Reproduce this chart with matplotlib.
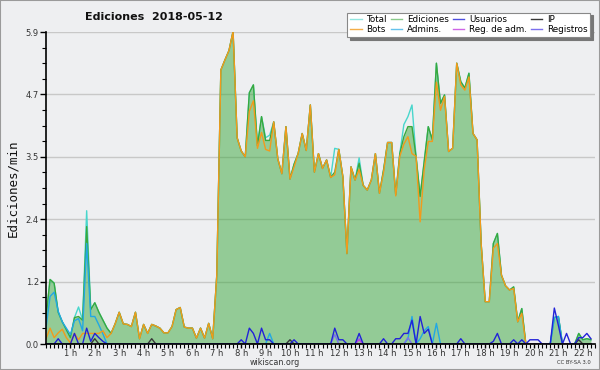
import numpy as np
import matplotlib
matplotlib.use('Agg')
import matplotlib.pyplot as plt
from matplotlib.ticker import MultipleLocator, AutoMinorLocator
from matplotlib.patches import Rectangle
from matplotlib.lines import Line2D

# ---- data (edits per minute, 10-minute steps from 00:00) ----
step_minutes = 10

ediciones = [
    0.50, 1.22, 1.15, 0.60, 0.42, 0.27, 0.12, 0.50, 0.52, 0.45, 2.22, 0.65, 0.78, 0.60, 0.45,
    0.30, 0.20, 0.38, 0.60, 0.38, 0.37, 0.33, 0.60, 0.10, 0.37, 0.20, 0.37, 0.34, 0.30, 0.21,
    0.21, 0.33, 0.65, 0.69, 0.32, 0.30, 0.30, 0.11, 0.30, 0.11, 0.39, 0.10, 1.30, 5.18, 5.37,
    5.55, 5.91, 3.90, 3.65, 3.54, 4.75, 4.90, 3.75, 4.30, 3.85, 3.85, 4.20, 3.50, 3.22, 4.11,
    3.12, 3.40, 3.60, 3.98, 3.66, 4.52, 3.25, 3.60, 3.32, 3.48, 3.15, 3.25, 3.68, 3.16, 1.71,
    3.35, 3.10, 3.42, 3.00, 2.91, 3.10, 3.60, 2.85, 3.29, 3.81, 3.81, 2.82, 3.60, 3.92, 4.11,
    4.11, 3.54, 2.79, 3.45, 4.11, 3.86, 5.31, 4.55, 4.71, 3.64, 3.70, 5.31, 4.96, 4.84, 5.12,
    3.98, 3.86, 1.90, 0.80, 0.80, 1.90, 2.09, 1.30, 1.10, 1.02, 1.08, 0.42, 0.67, 0.00, 0.00,
    0.00, 0.00, 0.00, 0.00, 0.00, 0.50, 0.52, 0.00, 0.00, 0.00, 0.00, 0.20, 0.08, 0.10, 0.08,
]

total = [
    0.50, 1.22, 1.15, 0.60, 0.42, 0.27, 0.12, 0.50, 0.70, 0.45, 2.52, 0.65, 0.78, 0.60, 0.45,
    0.30, 0.20, 0.38, 0.60, 0.38, 0.37, 0.33, 0.60, 0.10, 0.37, 0.20, 0.37, 0.34, 0.30, 0.21,
    0.21, 0.33, 0.65, 0.69, 0.32, 0.30, 0.30, 0.11, 0.30, 0.11, 0.39, 0.10, 1.30, 5.18, 5.37,
    5.55, 5.91, 3.90, 3.65, 3.54, 4.75, 4.90, 3.75, 4.30, 3.90, 3.95, 4.20, 3.50, 3.22, 4.11,
    3.12, 3.40, 3.60, 3.98, 3.66, 4.52, 3.25, 3.60, 3.32, 3.48, 3.15, 3.70, 3.68, 3.16, 1.71,
    3.35, 3.10, 3.52, 3.00, 2.91, 3.10, 3.60, 2.85, 3.29, 3.81, 3.81, 2.82, 3.60, 4.15, 4.30,
    4.52, 3.54, 2.79, 3.45, 4.11, 3.86, 5.31, 4.55, 4.71, 3.64, 3.70, 5.31, 4.96, 4.84, 5.12,
    3.98, 3.86, 1.90, 0.80, 0.80, 1.90, 2.09, 1.30, 1.10, 1.02, 1.08, 0.42, 0.67, 0.00, 0.00,
    0.00, 0.00, 0.00, 0.00, 0.00, 0.50, 0.52, 0.00, 0.00, 0.00, 0.00, 0.20, 0.08, 0.10, 0.08,
]

bots = [
    0.10, 0.30, 0.12, 0.21, 0.28, 0.12, 0.02, 0.20, 0.08, 0.20, 0.20, 0.20, 0.20, 0.20, 0.25,
    0.12, 0.20, 0.38, 0.60, 0.38, 0.37, 0.33, 0.60, 0.10, 0.37, 0.20, 0.37, 0.34, 0.30, 0.21,
    0.21, 0.33, 0.65, 0.69, 0.32, 0.30, 0.30, 0.11, 0.30, 0.11, 0.39, 0.10, 1.30, 5.18, 5.37,
    5.55, 5.91, 3.90, 3.65, 3.54, 4.40, 4.60, 3.70, 4.00, 3.68, 3.65, 4.20, 3.50, 3.22, 4.11,
    3.12, 3.35, 3.60, 3.98, 3.66, 4.52, 3.25, 3.60, 3.32, 3.48, 3.15, 3.20, 3.68, 3.16, 1.71,
    3.35, 3.10, 3.30, 3.00, 2.91, 3.10, 3.60, 2.85, 3.25, 3.81, 3.81, 2.80, 3.55, 3.78, 3.92,
    3.60, 3.55, 2.31, 3.30, 3.83, 3.83, 4.95, 4.42, 4.68, 3.64, 3.70, 5.31, 4.90, 4.80, 5.05,
    3.98, 3.86, 1.90, 0.80, 0.80, 1.81, 1.90, 1.30, 1.10, 1.02, 1.05, 0.42, 0.58, 0.00, 0.00,
    0.00, 0.00, 0.00, 0.00, 0.00, 0.00, 0.00, 0.00, 0.00, 0.00, 0.00, 0.00, 0.00, 0.00, 0.00,
]

admins = [
    0.30, 0.90, 0.98, 0.62, 0.42, 0.30, 0.18, 0.44, 0.48, 0.25, 1.90, 0.52, 0.52, 0.36, 0.19,
    0, 0, 0, 0, 0, 0, 0, 0, 0, 0, 0, 0, 0, 0, 0,
    0, 0, 0, 0, 0, 0, 0, 0, 0, 0, 0, 0, 0, 0, 0,
    0, 0, 0, 0, 0, 0, 0, 0, 0, 0, 0.20, 0, 0, 0, 0,
    0, 0, 0, 0, 0, 0, 0, 0, 0, 0, 0, 0, 0, 0, 0,
    0, 0, 0, 0, 0, 0, 0, 0, 0, 0, 0, 0, 0, 0, 0.10,
    0.52, 0, 0.10, 0.25, 0.33, 0, 0.39, 0, 0, 0, 0, 0, 0, 0, 0,
    0, 0, 0, 0, 0, 0, 0, 0, 0, 0, 0, 0, 0, 0, 0,
    0, 0, 0, 0, 0, 0.50, 0.52, 0, 0, 0, 0, 0, 0, 0, 0,
]

usuarios = [
    0, 0, 0, 0.10, 0, 0, 0, 0.20, 0, 0, 0.30, 0.05, 0.20, 0.12, 0.05,
    0, 0, 0, 0, 0, 0, 0, 0, 0, 0, 0, 0, 0, 0, 0,
    0, 0, 0, 0, 0, 0, 0, 0, 0, 0, 0, 0, 0, 0, 0,
    0, 0, 0, 0.08, 0, 0.30, 0.20, 0, 0.30, 0.08, 0.08, 0, 0, 0, 0,
    0, 0.08, 0, 0, 0, 0, 0, 0, 0, 0, 0, 0.30, 0.08, 0.08, 0,
    0, 0, 0.20, 0, 0, 0, 0, 0, 0.10, 0, 0, 0.10, 0.10, 0.20, 0.20,
    0.45, 0, 0.52, 0.20, 0.28, 0, 0, 0, 0, 0, 0, 0, 0.10, 0, 0,
    0, 0, 0, 0, 0, 0.05, 0.20, 0, 0, 0, 0.08, 0, 0.08, 0, 0.08,
    0.08, 0.08, 0, 0, 0, 0.68, 0.35, 0, 0.20, 0, 0, 0.12, 0.12, 0.20, 0.10,
]

ip = [
    0, 0, 0, 0, 0, 0, 0, 0, 0, 0, 0, 0, 0.10, 0, 0,
    0, 0, 0, 0, 0, 0, 0, 0, 0, 0, 0, 0.10, 0, 0, 0,
    0, 0, 0, 0, 0, 0, 0, 0, 0, 0, 0, 0, 0, 0, 0,
    0, 0, 0, 0, 0, 0, 0, 0, 0, 0, 0, 0, 0, 0, 0,
    0.08, 0, 0, 0, 0, 0, 0, 0, 0, 0, 0, 0, 0, 0, 0,
    0, 0, 0, 0, 0, 0, 0, 0, 0, 0, 0, 0, 0, 0, 0,
    0, 0, 0, 0, 0, 0, 0, 0, 0, 0, 0, 0, 0, 0, 0,
    0, 0, 0, 0, 0, 0, 0, 0, 0, 0, 0, 0, 0, 0, 0,
    0, 0, 0, 0, 0, 0, 0, 0, 0, 0, 0, 0.08, 0, 0, 0,
]

registros = [
    0, 0, 0, 0, 0, 0, 0, 0, 0, 0, 0, 0, 0, 0, 0,
    0, 0, 0, 0, 0, 0, 0, 0, 0, 0, 0, 0, 0, 0, 0,
    0, 0, 0, 0, 0, 0, 0, 0, 0, 0, 0, 0, 0, 0, 0,
    0, 0, 0, 0, 0, 0, 0, 0, 0, 0, 0, 0, 0, 0, 0,
    0, 0, 0, 0, 0, 0, 0, 0, 0, 0, 0, 0.18, 0, 0, 0,
    0, 0, 0.10, 0, 0, 0, 0, 0, 0, 0, 0, 0, 0, 0, 0.12,
    0, 0, 0, 0, 0, 0, 0, 0, 0, 0, 0, 0, 0, 0, 0,
    0, 0, 0, 0, 0, 0, 0, 0, 0, 0, 0, 0, 0, 0, 0,
    0, 0, 0, 0, 0, 0, 0, 0, 0, 0, 0, 0, 0, 0, 0,
]

reg_adm = [
    0, 0, 0, 0, 0, 0, 0, 0, 0, 0, 0, 0, 0, 0, 0,
    0, 0, 0, 0, 0, 0, 0, 0, 0, 0, 0, 0, 0, 0, 0,
    0, 0, 0, 0, 0, 0, 0, 0, 0, 0, 0, 0, 0, 0, 0,
    0, 0, 0, 0, 0, 0, 0, 0, 0, 0, 0, 0, 0, 0, 0,
    0, 0, 0, 0, 0, 0, 0, 0, 0, 0, 0, 0, 0, 0, 0,
    0, 0, 0.08, 0, 0, 0, 0, 0, 0, 0, 0, 0, 0, 0, 0,
    0, 0, 0, 0, 0, 0, 0, 0, 0, 0, 0, 0, 0, 0, 0,
    0, 0, 0, 0, 0, 0, 0, 0, 0, 0, 0, 0, 0, 0, 0,
    0, 0, 0, 0, 0, 0, 0, 0, 0, 0, 0, 0, 0, 0, 0,
]

hour_ticks = list(range(1, 23))
hour_labels = [f'{h} h' for h in hour_ticks]
y_max = 5.9
title = 'Ediciones  2018-05-12'
y_label = 'Ediciones/min'

# ---- style ----
BG = '#eeeff1'
C_TOTAL = '#48d6cc'
C_EDIC = '#3aa83c'
C_USU = '#2222d8'
C_IP = '#383838'
C_BOTS = '#f29a1c'
C_ADM = '#22a8e4'
C_REGADM = '#c23ee0'
C_REG = '#7b70ee'

hours = np.arange(len(ediciones)) * step_minutes / 60.0

fig = plt.figure(figsize=(6, 3.7), dpi=100, facecolor=BG)
ax = fig.add_axes([46 / 600, 26 / 370, 549 / 600, 312 / 370], facecolor=BG)

ax.set_xlim(0, 22.5)
ax.set_ylim(0, y_max)

yt = np.linspace(0, y_max, 6)
ax.set_yticks(yt)
ax.set_yticklabels([f'{v:.1f}' for v in yt])
ax.yaxis.set_minor_locator(AutoMinorLocator(4))
ax.grid(axis='y', which='major', color='#c8c8c8', lw=1.0)
ax.set_axisbelow(True)

ax.set_xticks(hour_ticks)
ax.set_xticklabels(hour_labels)
ax.xaxis.set_minor_locator(MultipleLocator(1 / 6))

for s in ['top', 'right']:
    ax.spines[s].set_visible(False)
for s in ['left', 'bottom']:
    ax.spines[s].set_color('black')
    ax.spines[s].set_linewidth(1.2)
    ax.spines[s].set_zorder(5)

ax.tick_params(axis='y', which='major', length=4, width=1, labelsize=6,
               labelcolor='#333333', pad=1.2)
ax.tick_params(axis='x', which='major', length=3, width=1, labelsize=6,
               labelcolor='#333333', pad=0.3)
ax.tick_params(axis='both', which='minor', length=2.6, width=0.8)

lw = 1.0
ax.fill_between(hours, 0, ediciones, color=C_EDIC, alpha=0.5, lw=0, zorder=1)
ax.plot(hours, total, color=C_TOTAL, lw=lw, zorder=2)
ax.plot(hours, ediciones, color=C_EDIC, lw=lw, zorder=2.1)
ax.plot(hours, admins, color=C_ADM, lw=lw, zorder=2.2)
ax.plot(hours, bots, color=C_BOTS, lw=lw, zorder=2.3)
ax.plot(hours, registros, color=C_REG, lw=lw, zorder=2.4)
ax.plot(hours, reg_adm, color=C_REGADM, lw=lw, zorder=2.45)
ax.plot(hours, ip, color=C_IP, lw=lw, zorder=2.5)
ax.plot(hours, usuarios, color=C_USU, lw=lw, zorder=2.6)

handles = [
    Line2D([], [], color=C_TOTAL, lw=1, alpha=0.6), Line2D([], [], color=C_BOTS, lw=1, alpha=0.8),
    Line2D([], [], color=C_EDIC, lw=1, alpha=0.6), Line2D([], [], color=C_ADM, lw=1, alpha=0.7),
    Line2D([], [], color=C_USU, lw=1, alpha=0.8), Line2D([], [], color=C_REGADM, lw=1, alpha=0.8),
    Line2D([], [], color=C_IP, lw=1), Line2D([], [], color=C_REG, lw=1),
]
labels = ['Total', 'Bots', 'Ediciones', 'Admins.', 'Usuarios', 'Reg. de adm.', 'IP', 'Registros']
leg = fig.legend(handles, labels, ncol=4, loc='upper right',
                 bbox_to_anchor=(590 / 600, 1 - 12.5 / 370), bbox_transform=fig.transFigure,
                 fontsize=6.3, frameon=True, fancybox=False, framealpha=1,
                 edgecolor='#888888', facecolor='white',
                 shadow={'color': '#777777', 'alpha': 1},
                 handlelength=1.35, handletextpad=0.5, columnspacing=0.45,
                 labelspacing=0.12, borderpad=0.3, borderaxespad=0)
leg.get_frame().set_linewidth(0.8)

fig.text(85 / 600, 1 - 17 / 370, title, fontsize=8, fontweight='bold',
         ha='left', va='center', color='#111111')
fig.text(13 / 600, 1 - 188 / 370, y_label, rotation=90, family='DejaVu Sans Mono',
         fontsize=9, ha='center', va='center', color='#111111')
fig.text(275 / 600, 1 - 362.5 / 370, 'wikiscan.org', fontsize=5.8,
         ha='center', va='center', color='#333333')
fig.text(591 / 600, 1 - 363 / 370, 'CC BY-SA 3.0', fontsize=3.8,
         ha='right', va='center', color='#333333')

fig.patches.append(Rectangle((0, 0), 1, 1, transform=fig.transFigure, fill=False,
                             edgecolor='#9a9a9a', lw=1.5))

fig.savefig('out.png', dpi=100, facecolor=BG)
